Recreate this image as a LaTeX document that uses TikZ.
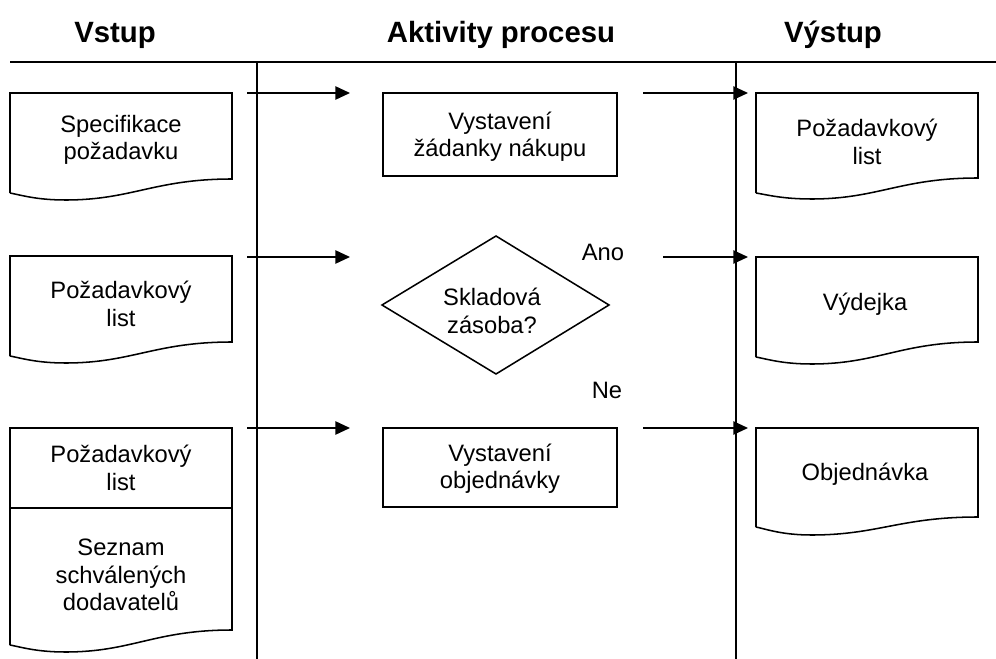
\documentclass[tikz,border=0pt]{standalone}
\usepackage{fontspec}
\setmainfont{Liberation Sans}
\usetikzlibrary{arrows.meta,calc}
\tikzset{
  lbl/.style={align=center,inner sep=0pt,font=\fontsize{17.8}{20.5}\selectfont},
  hdr/.style={inner sep=0pt,anchor=base,font=\fontsize{22}{25}\selectfont\bfseries},
  shp/.style={draw=black,line width=1.15pt},
  flow/.style={line width=1.15pt,-{Triangle[length=11pt,width=10pt]}},
  lane/.style={line width=1.15pt},
  headline/.style={line width=1.8pt},
}
% x1, top, x2, y right bottom, y left bottom, y lowest
\newcommand\docshape[6]{%
  \pgfmathsetmacro\docw{#3-#1}%
  \draw[shp] (#1,#5) -- (#1,#2) -- (#3,#2) -- (#3,#4)
    .. controls ({#3-0.35*\docw},#4) and ({#1+0.55*\docw},#6) .. ({#1+0.25*\docw},#6)
    .. controls ({#1+0.12*\docw},#6) and ({#1+0.05*\docw},{#5+0.3*(#6-#5)}) .. (#1,#5);
}
\begin{document}
\begin{tikzpicture}[x=0.75pt,y=-0.75pt]
\useasboundingbox (0,0) rectangle (996,659);

% headers
\node[hdr] (hin)  at (115,43) {Vstup};
\node[hdr] (hact) at (501,43) {Aktivity procesu};
\node[hdr] (hout) at (833,43) {Výstup};

% lanes
\coordinate (hl1) at (10,62);
\coordinate (hl2) at (996,62);
\draw[headline] (hl1) -- (hl2);
\coordinate (v1t) at (257,62);
\coordinate (v1b) at (257,659);
\coordinate (v2t) at (736,62);
\coordinate (v2b) at (736,659);
\draw[lane] (v1t) -- (v1b);
\draw[lane] (v2t) -- (v2b);

% input documents
\docshape{10}{93}{232}{179}{193}{200}
\node[lbl] (in1) at (121,140) {Specifikace\\požadavku};
\docshape{10}{256}{232}{342}{356}{363}
\node[lbl] (in2) at (121,304) {Požadavkový\\list};
\docshape{10}{428}{232}{630}{645}{652}
\coordinate (divl) at (10,508);
\coordinate (divr) at (232,508);
\draw[shp] (divl) -- (divr);
\node[lbl] (in3a) at (121,468) {Požadavkový\\list};
\node[lbl] (in3b) at (121,575) {Seznam\\schválených\\dodavatelů};

% activities
\draw[shp] (383,93) rectangle (617,176);
\node[lbl] (act1) at (500,137) {Vystavení\\žádanky nákupu};
\coordinate (dt) at (496,236);
\coordinate (dl) at (382,305);
\coordinate (dr) at (609,305);
\coordinate (db) at (496,374);
\draw[shp] (dt) -- (dr) -- (db) -- (dl) -- cycle;
\node[lbl] (dec) at (492,311) {Skladová\\zásoba?};
\draw[shp] (383,428) rectangle (617,507);
\node[lbl] (act2) at (500,469) {Vystavení\\objednávky};

\node[lbl] (ano) at (603,252) {Ano};
\node[lbl] (ne) at (607,390) {Ne};

% output documents
\docshape{756}{93}{978}{178}{193}{199}
\node[lbl] (out1) at (867,142) {Požadavkový\\list};
\docshape{756}{257}{978}{342}{357}{364}
\node[lbl] (out2) at (865,304) {Výdejka};
\docshape{756}{428}{978}{517}{527}{535}
\node[lbl] (out3) at (865,474) {Objednávka};

% arrows
\coordinate (a1s) at (247,93);  \coordinate (a1e) at (350,93);
\coordinate (a2s) at (247,257); \coordinate (a2e) at (350,257);
\coordinate (a3s) at (247,428); \coordinate (a3e) at (350,428);
\coordinate (b1s) at (643,93);  \coordinate (b1e) at (748,93);
\coordinate (b2s) at (663,257); \coordinate (b2e) at (748,257);
\coordinate (b3s) at (643,428); \coordinate (b3e) at (748,428);
\draw[flow] (a1s) -- (a1e);
\draw[flow] (a2s) -- (a2e);
\draw[flow] (a3s) -- (a3e);
\draw[flow] (b1s) -- (b1e);
\draw[flow] (b2s) -- (b2e);
\draw[flow] (b3s) -- (b3e);
\end{tikzpicture}
\end{document}
